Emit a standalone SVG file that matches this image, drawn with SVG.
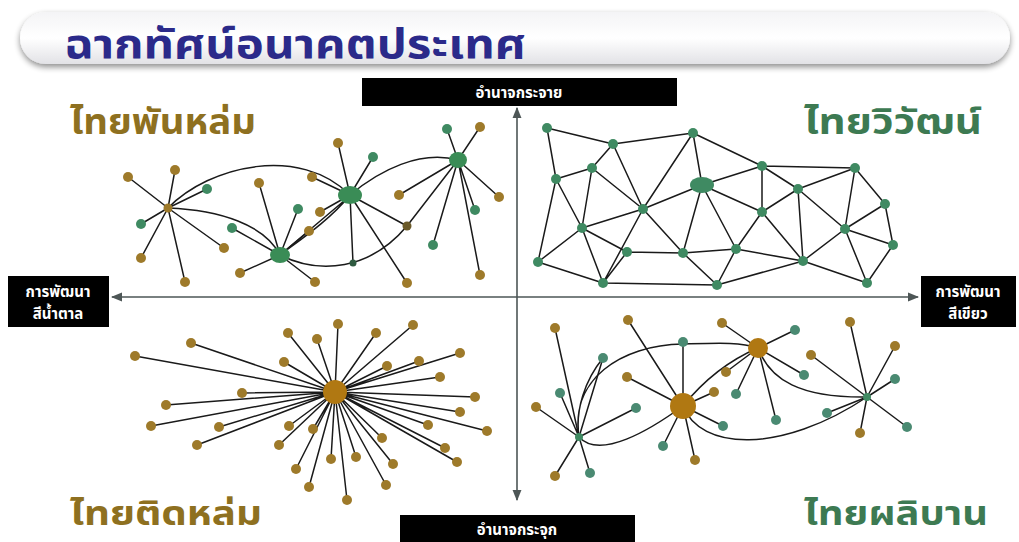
<svg xmlns="http://www.w3.org/2000/svg" width="1019" height="542" viewBox="0 0 1019 542">
<defs>
<linearGradient id="bar" x1="0" y1="0" x2="0" y2="1">
<stop offset="0" stop-color="#f4f4f6"/><stop offset="0.5" stop-color="#ffffff"/><stop offset="1" stop-color="#e2e2e6"/>
</linearGradient>
<filter id="sh" x="-5%" y="-30%" width="110%" height="170%"><feGaussianBlur in="SourceAlpha" stdDeviation="3"/><feOffset dx="0" dy="3"/><feComponentTransfer><feFuncA type="linear" slope="0.45"/></feComponentTransfer><feMerge><feMergeNode/><feMergeNode in="SourceGraphic"/></feMerge></filter>
<marker id="ah" viewBox="0 0 10 10" refX="9" refY="5" markerWidth="7" markerHeight="7" orient="auto-start-reverse"><path d="M0,1 L10,5 L0,9 z" fill="#4d5656"/></marker>
</defs>
<style>
.th{font-family:"Noto Sans Thai","Noto Sans","DejaVu Sans","Liberation Sans",sans-serif;font-weight:bold}
.lbl{fill:#fff;font-size:15px;text-anchor:middle}
.e{stroke:#1a1a1a;stroke-width:1.5;fill:none}
.b{fill:#9e7a2a}
.g{fill:#3f8a62}
.gh{fill:#3a8c56}
.bh{fill:#b07812}
.ax{stroke:#4d5656;stroke-width:1.6;fill:none}
</style>
<rect width="1019" height="542" fill="#ffffff"/>
<g id="title">
<rect x="20" y="12" width="990" height="52" rx="26" fill="url(#bar)" filter="url(#sh)"/>
<text class="th" x="64" y="58" font-size="40" fill="#2b2a8a" textLength="462" lengthAdjust="spacingAndGlyphs">ฉากทัศน์อนาคตประเทศ</text>
</g>
<g id="axes">
<line class="ax" x1="517" y1="500" x2="517" y2="108" marker-end="url(#ah)" marker-start="url(#ah)"/>
<line class="ax" x1="112" y1="297" x2="918" y2="297" marker-end="url(#ah)" marker-start="url(#ah)"/>
</g>
<g id="label-top"><rect x="362" y="78" width="315" height="28" fill="#000"/><text class="th lbl" x="519" y="98">อำนาจกระจาย</text></g>
<g id="label-bottom"><rect x="400" y="515" width="235" height="27" fill="#000"/><text class="th lbl" x="517" y="535">อำนาจกระจุก</text></g>
<g id="label-left"><rect x="8" y="276" width="101" height="51" fill="#000"/><text class="th lbl" x="58" y="297">การพัฒนา</text><text class="th lbl" x="58" y="319">สีน้ำตาล</text></g>
<g id="label-right"><rect x="921" y="276" width="95" height="51" fill="#000"/><text class="th lbl" x="968" y="297">การพัฒนา</text><text class="th lbl" x="968" y="319">สีเขียว</text></g>
<g id="q-titles">
<text class="th" x="70" y="134" font-size="36" fill="#8e7020" textLength="186" lengthAdjust="spacingAndGlyphs">ไทยพันหล่ม</text>
<text class="th" x="982" y="134" font-size="36" fill="#3d7a52" text-anchor="end" textLength="178" lengthAdjust="spacingAndGlyphs">ไทยวิวัฒน์</text>
<text class="th" x="70" y="525" font-size="34" fill="#8e7020" textLength="192" lengthAdjust="spacingAndGlyphs">ไทยติดหล่ม</text>
<text class="th" x="988" y="525" font-size="34" fill="#3d7a52" text-anchor="end" textLength="184" lengthAdjust="spacingAndGlyphs">ไทยผลิบาน</text>
</g>
<g id="connectors">
<!-- top-left -->
<path class="e" d="M168,208 L128,177 M168,208 L175,170 M168,208 L207,189 M168,208 L141,224 M168,208 L141,258 M168,208 L185,282 M168,208 L224,248"/>
<path class="e" d="M280,255 L259,183 M280,255 L232,228 M280,255 L298,209 M280,255 L309,231 M280,255 L240,273 M280,255 L315,282"/>
<path class="e" d="M350,195 L338,143 M350,195 L373,157 M350,195 L312,177 M350,195 L320,212 M350,195 L407,283 M350,195 L407,226 M350,195 L353,263"/>
<path class="e" d="M458,160 L447,129 M458,160 L480,127 M458,160 L399,195 M458,160 L499,197 M458,160 L475,210 M458,160 L433,245 M458,160 L480,275 M458,160 L407,226"/>
<path class="e" d="M168,208 C210,165 300,145 350,195 M168,208 C220,210 265,225 280,255 M280,255 C300,240 330,220 350,195 M280,255 L345,200 M350,195 C380,170 420,150 458,160 M280,255 C320,275 370,270 407,226"/>
<!-- top-right mesh -->
<path class="e" d="M547,128 L613,144 M547,128 L556,179 M613,144 L693,133 M693,133 L762,166 M762,166 L855,168 M613,144 L592,168 M592,168 L556,179 M613,144 L643,209 M592,168 L643,209 M592,168 L582,228 M556,179 L582,228 M556,179 L538,262 M693,133 L643,209 M693,133 L702,185 M702,185 L762,166 M762,166 L762,212 M762,166 L798,189 M798,189 L855,168 M855,168 L885,204 M855,168 L845,229 M885,204 L893,245 M885,204 L845,229 M893,245 L845,229 M893,245 L867,283 M845,229 L867,283 M845,229 L803,261 M798,189 L845,229 M798,189 L803,261 M798,189 L762,212 M702,185 L643,209 M702,185 L762,212 M702,185 L683,253 M702,185 L736,249 M643,209 L582,228 M643,209 L683,253 M643,209 L603,283 M582,228 L627,252 M582,228 L538,262 M582,228 L603,283 M538,262 L603,283 M627,252 L683,253 M627,252 L603,283 M683,253 L736,249 M683,253 L717,285 M603,283 L717,285 M736,249 L717,285 M736,249 L762,212 M762,212 L803,261 M736,249 L803,261 M717,285 L803,261 M803,261 L867,283"/>
<!-- bottom-left star -->
<path class="e" d="M335,392 L135,356 M335,392 L191,343 M335,392 L288,333 M335,392 L317,339 M335,392 L338,324 M335,392 L376,333 M335,392 L413,325 M335,392 L284,362 M335,392 L387,366 M335,392 L419,361 M335,392 L460,353 M335,392 L440,377 M335,392 L475,397 M335,392 L460,412 M335,392 L487,431 M335,392 L428,425 M335,392 L445,448 M335,392 L457,462 M335,392 L382,438 M335,392 L393,464 M335,392 L386,485 M335,392 L356,457 M335,392 L347,500 M335,392 L331,459 M335,392 L309,487 M335,392 L296,469 M335,392 L313,429 M335,392 L289,426 M335,392 L279,445 M335,392 L242,393 M335,392 L166,405 M335,392 L151,426 M335,392 L219,427 M335,392 L197,445"/>
<!-- bottom-right -->
<path class="e" d="M579,437 L555,328 M579,437 L603,358 M579,437 L560,393 M579,437 L536,407 M579,437 L636,408 M579,437 L555,476 M579,437 L590,473"/>
<path class="e" d="M683,406 L628,320 M683,406 L683,342 M683,406 L627,377 M683,406 L714,392 M683,406 L723,426 M683,406 L695,460 M683,406 L663,446"/>
<path class="e" d="M758,348 L722,323 M758,348 L795,330 M758,348 L726,372 M758,348 L736,394 M758,348 L804,375 M758,348 L776,420"/>
<path class="e" d="M867,397 L850,322 M867,397 L895,346 M867,397 L811,355 M867,397 L895,379 M867,397 L827,413 M867,397 L860,433 M867,397 L907,427"/>
<path class="e" d="M579,437 C570,380 620,345 683,344 C720,343 740,342 758,348 M579,437 C600,460 650,430 683,406 M683,406 C700,385 725,362 758,348 M758,348 C770,380 800,398 867,397 M683,406 C700,450 780,455 867,397 M579,437 C575,410 585,380 603,358"/>
</g>
<g id="nodes-top-left">
<circle class="b" cx="168" cy="208" r="4.5"/>
<ellipse class="gh" cx="280" cy="255" rx="10" ry="8"/>
<ellipse class="gh" cx="350" cy="195" rx="12" ry="9"/>
<ellipse class="gh" cx="458" cy="160" rx="9" ry="8"/>
<circle fill="#6b5a2a" cx="407" cy="226" r="4.5"/>
<circle fill="#2f5a40" cx="353" cy="263" r="3.5"/>
<g class="b"><circle cx="128" cy="177" r="5"/><circle cx="175" cy="170" r="5"/><circle cx="141" cy="258" r="5"/><circle cx="185" cy="282" r="5"/><circle cx="224" cy="248" r="5"/><circle cx="259" cy="183" r="5"/><circle cx="309" cy="231" r="5"/><circle cx="240" cy="273" r="5"/><circle cx="315" cy="282" r="5"/><circle cx="338" cy="143" r="5"/><circle cx="312" cy="177" r="5"/><circle cx="320" cy="212" r="5"/><circle cx="407" cy="283" r="5"/><circle cx="480" cy="127" r="5"/><circle cx="399" cy="195" r="5"/><circle cx="499" cy="197" r="5"/><circle cx="480" cy="275" r="5"/></g>
<g class="g"><circle cx="207" cy="189" r="5"/><circle cx="141" cy="224" r="5"/><circle cx="232" cy="228" r="5"/><circle cx="298" cy="209" r="5"/><circle cx="373" cy="157" r="5"/><circle cx="447" cy="129" r="5"/><circle cx="475" cy="210" r="5"/><circle cx="433" cy="245" r="5"/></g>
</g>
<g id="nodes-top-right" class="g">
<circle cx="547" cy="128" r="5"/><circle cx="693" cy="133" r="5"/><circle cx="613" cy="144" r="5"/><circle cx="592" cy="168" r="5"/><circle cx="556" cy="179" r="5"/><circle cx="762" cy="166" r="5"/><circle cx="855" cy="168" r="5"/><ellipse cx="702" cy="185" rx="12" ry="8"/><circle cx="798" cy="189" r="5"/><circle cx="885" cy="204" r="5"/><circle cx="643" cy="209" r="5"/><circle cx="762" cy="212" r="5"/><circle cx="582" cy="228" r="5"/><circle cx="845" cy="229" r="5"/><circle cx="893" cy="245" r="5"/><circle cx="627" cy="252" r="5"/><circle cx="683" cy="253" r="5"/><circle cx="736" cy="249" r="5"/><circle cx="538" cy="262" r="5"/><circle cx="803" cy="261" r="5"/><circle cx="603" cy="283" r="5"/><circle cx="717" cy="285" r="5"/><circle cx="867" cy="283" r="5"/>
</g>
<g id="nodes-bottom-left" class="b">
<circle class="bh" cx="335" cy="392" r="12"/>
<circle cx="135" cy="356" r="5"/><circle cx="191" cy="343" r="5"/><circle cx="288" cy="333" r="5"/><circle cx="317" cy="339" r="5"/><circle cx="338" cy="324" r="5"/><circle cx="376" cy="333" r="5"/><circle cx="413" cy="325" r="5"/><circle cx="284" cy="362" r="5"/><circle cx="387" cy="366" r="5"/><circle cx="419" cy="361" r="5"/><circle cx="460" cy="353" r="5"/><circle cx="440" cy="377" r="5"/><circle cx="475" cy="397" r="5"/><circle cx="460" cy="412" r="5"/><circle cx="487" cy="431" r="5"/><circle cx="428" cy="425" r="5"/><circle cx="445" cy="448" r="5"/><circle cx="457" cy="462" r="5"/><circle cx="382" cy="438" r="5"/><circle cx="393" cy="464" r="5"/><circle cx="386" cy="485" r="5"/><circle cx="356" cy="457" r="5"/><circle cx="347" cy="500" r="5"/><circle cx="331" cy="459" r="5"/><circle cx="309" cy="487" r="5"/><circle cx="296" cy="469" r="5"/><circle cx="313" cy="429" r="5"/><circle cx="289" cy="426" r="5"/><circle cx="279" cy="445" r="5"/><circle cx="242" cy="393" r="5"/><circle cx="166" cy="405" r="5"/><circle cx="151" cy="426" r="5"/><circle cx="219" cy="427" r="5"/><circle cx="197" cy="445" r="5"/>
</g>
<g id="nodes-bottom-right">
<circle class="bh" cx="683" cy="406" r="13"/>
<circle class="bh" cx="758" cy="348" r="10"/>
<circle fill="#3f8a62" cx="579" cy="437" r="4"/>
<circle fill="#3f8a62" cx="867" cy="397" r="4"/>
<g class="b"><circle cx="555" cy="328" r="5"/><circle cx="536" cy="407" r="5"/><circle cx="555" cy="476" r="5"/><circle cx="628" cy="320" r="5"/><circle cx="627" cy="377" r="5"/><circle cx="714" cy="392" r="5"/><circle cx="695" cy="460" r="5"/><circle cx="722" cy="323" r="5"/><circle cx="726" cy="372" r="5"/><circle cx="850" cy="322" r="5"/><circle cx="895" cy="346" r="5"/><circle cx="811" cy="355" r="5"/><circle cx="860" cy="433" r="5"/></g>
<g fill="#4a8a72"><circle cx="603" cy="358" r="5"/><circle cx="560" cy="393" r="5"/><circle cx="636" cy="408" r="5"/><circle cx="590" cy="473" r="5"/><circle cx="683" cy="342" r="5"/><circle cx="723" cy="426" r="5"/><circle cx="663" cy="446" r="5"/><circle cx="795" cy="330" r="5"/><circle cx="736" cy="394" r="5"/><circle cx="804" cy="375" r="5"/><circle cx="776" cy="420" r="5"/><circle cx="895" cy="379" r="5"/><circle cx="827" cy="413" r="5"/><circle cx="907" cy="427" r="5"/></g>
</g>
</svg>
